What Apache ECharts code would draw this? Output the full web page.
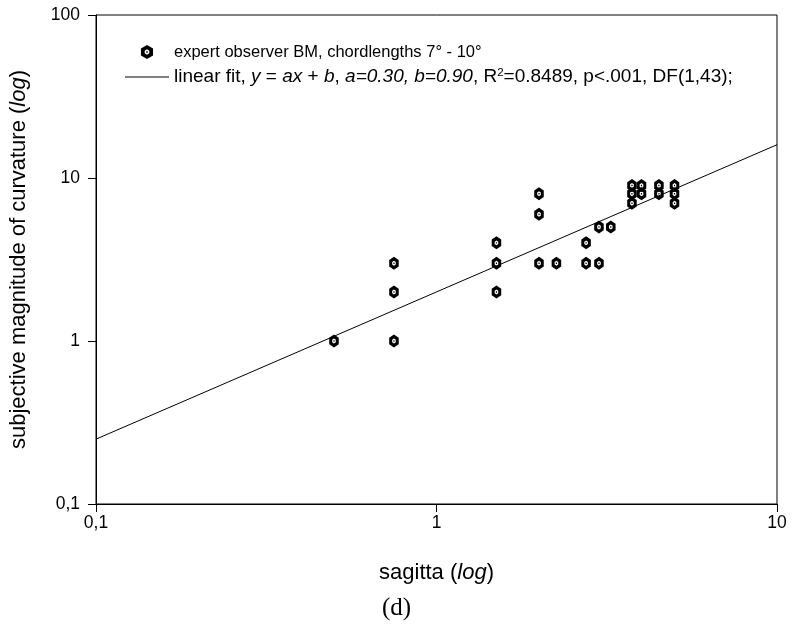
<!DOCTYPE html>
<html>
<head>
<meta charset="utf-8">
<script src="https://cdn.jsdelivr.net/npm/echarts@6/dist/echarts.min.js"></script>
<style>html,body{margin:0;padding:0;background:#fff}#c{width:793px;height:627px}</style>
</head>
<body>
<div id="c"></div>
<script>
// Observed points (sagitta, subjective magnitude)
const sagitta = [0.5, 0.75, 0.75, 0.75, 1.5, 1.5, 1.5, 2, 2, 2, 2.25, 2.75, 2.75, 3, 3, 3.25, 3.75, 3.75, 3.75, 4, 4, 4.5, 4.5, 5, 5, 5];
const magnitude = [1, 1, 2, 3, 2, 3, 4, 3, 6, 8, 3, 3, 4, 3, 5, 5, 7, 8, 9, 8, 9, 8, 9, 7, 8, 9];
// Fit line endpoints
const fitX = [0.1, 10];
const fitY = [0.25, 16];
const xTickLabels = {'0.1': '0,1', '1': '1', '10': '10'};
const yTickLabels = {'0.1': '0,1', '1': '1', '10': '10', '100': '100'};

const hexPath = 'path://M0,-10 L8.66,-5 L8.66,5 L0,10 L-8.66,5 L-8.66,-5 Z M0,-3.8 L-3.3,-1.9 L-3.3,1.9 L0,3.8 L3.3,1.9 L3.3,-1.9 Z M-1.1,-1.1 L1.1,-1.1 L1.1,1.1 L-1.1,1.1 Z';
const linePath = 'path://M0,0 L44,0 L44,1 L0,1 Z';
const FONT = 'Liberation Sans, Arial, sans-serif';

const chart = echarts.init(document.getElementById('c'));
function lab(map, v) { const k = String(Number(Number(v).toPrecision(3))); return map[k] !== undefined ? map[k] : ''; }

chart.setOption({
  animation: false,
  backgroundColor: '#fff',
  title: {
    text: '(d)', left: 'center', top: 591,
    textStyle: { fontFamily: 'Liberation Serif, Times New Roman, serif', fontSize: 25, fontWeight: 'normal', color: '#000' }
  },
  grid: { left: 95, right: 16, top: 15, bottom: 123, show: true, borderColor: '#000', borderWidth: 1, backgroundColor: 'transparent' },
  legend: {
    orient: 'vertical', left: 120, top: 37, itemWidth: 44, itemHeight: 14, itemGap: 5,
    symbolKeepAspect: true,
    textStyle: { fontFamily: FONT, fontSize: 16.5, color: '#000', lineHeight: 20,
      rich: {
        n: { fontFamily: FONT, fontSize: 19, lineHeight: 20 },
        i: { fontStyle: 'italic', fontFamily: FONT, fontSize: 19, lineHeight: 20 },
        sup: { fontSize: 11.5, verticalAlign: 'top', fontFamily: FONT, lineHeight: 20 }
      } },
    data: [
      { name: 'obs', icon: hexPath },
      { name: 'fit', icon: linePath }
    ],
    formatter: function (n) {
      if (n === 'obs') return 'expert observer BM, chordlengths 7° - 10°';
      return '{n|linear fit, }{i|y}{n| = }{i|ax}{n| + }{i|b}{n|, }{i|a=0.30, b=0.90}{n|, R}{sup|2}{n|=0.8489, p<.001, DF(1,43);}';
    }
  },
  xAxis: {
    type: 'log', logBase: 10, min: 0.1, max: 10,
    name: 'sagitta ({i|log})', nameLocation: 'middle', nameGap: 58,
    nameTextStyle: { fontFamily: FONT, fontSize: 22, color: '#000', rich: { i: { fontStyle: 'italic', fontFamily: FONT, fontSize: 22 } } },
    axisLine: { lineStyle: { color: '#000', width: 1 } },
    axisTick: { show: true, inside: false, length: 8, lineStyle: { color: '#000' } },
    minorTick: { show: false },
    splitLine: { show: false },
    axisLabel: { fontFamily: FONT, fontSize: 17.5, color: '#000', margin: 10, formatter: v => lab(xTickLabels, v) }
  },
  yAxis: {
    type: 'log', logBase: 10, min: 0.1, max: 100,
    name: 'subjective magnitude of curvature ({i|log})', nameLocation: 'middle', nameGap: 66,
    nameTextStyle: { fontFamily: FONT, fontSize: 22, color: '#000', rich: { i: { fontStyle: 'italic', fontFamily: FONT, fontSize: 22 } } },
    axisLine: { show: true, lineStyle: { color: '#000', width: 1 } },
    axisTick: { show: true, inside: false, length: 8, lineStyle: { color: '#000' } },
    splitLine: { show: false },
    axisLabel: { fontFamily: FONT, fontSize: 17.5, color: '#000', margin: 16, formatter: v => lab(yTickLabels, v) }
  },
  series: [
    {
      name: 'obs', type: 'scatter', symbol: hexPath, symbolSize: [11, 13], symbolKeepAspect: true,
      itemStyle: { color: '#000', opacity: 1 },
      data: sagitta.map((x, i) => [x, magnitude[i]]),
      z: 3
    },
    {
      name: 'fit', type: 'line', symbol: 'none', showSymbol: false,
      lineStyle: { color: '#000', width: 1 }, itemStyle: { color: '#000' },
      data: fitX.map((x, i) => [x, fitY[i]]),
      z: 2
    }
  ]
});
</script>
</body>
</html>
